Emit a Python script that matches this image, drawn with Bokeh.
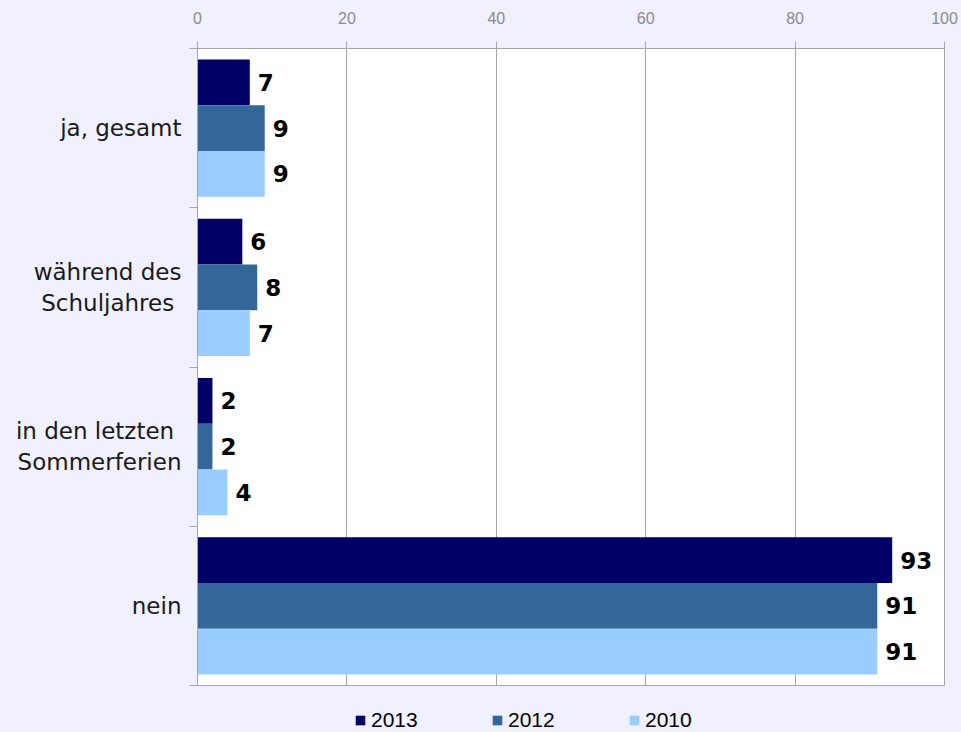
import numpy as np
from bokeh.plotting import figure
from bokeh.layouts import column
from bokeh.models import Range1d, FixedTicker, Legend, LegendItem
from bokeh.core.properties import value
from bokeh.embed import file_html
from bokeh.resources import INLINE

# ---- data ----
categories = ["ja, gesamt", "während des\nSchuljahres ", "in den letzten \nSommerferien", "nein"]
years = ["2013", "2012", "2010"]
v2013 = [7, 6, 2, 93]
v2012 = [9, 8, 2, 91]
v2010 = [9, 7, 4, 91]
x_ticks = [0, 20, 40, 60, 80, 100]

colors = ["#000066", "#336699", "#99ccff"]
BG = "#f0f0fe"
GRID = "#a6a6a6"

n = len(categories)
centers = np.arange(n) + 0.5
bar_h = 0.287
offsets = [-bar_h, 0.0, bar_h]

p = figure(width=961, height=700, output_backend="svg", toolbar_location=None,
           x_range=Range1d(0, 100), y_range=Range1d(n, 0),
           x_axis_location="above",
           min_border_left=197, min_border_right=17, min_border_top=48, min_border_bottom=15)

p.background_fill_color = "white"
p.border_fill_color = BG
p.outline_line_color = GRID

series = [v2013, v2012, v2010]
for vals, off, col in zip(series, offsets, colors):
    ys = centers + off
    p.hbar(y=ys, right=vals, left=0, height=bar_h, fill_color=col, line_color=None)
    p.text(x=vals, y=ys, text=[str(v) for v in vals], x_offset=8,
           text_baseline="middle", text_align="left",
           text_font=value("DejaVu Sans"), text_font_style="bold",
           text_font_size="23px", text_color="black")

# x axis (top)
xa = p.xaxis[0]
xa.ticker = FixedTicker(ticks=x_ticks)
xa.axis_line_color = GRID
xa.major_tick_line_color = GRID
xa.major_tick_out = 7
xa.major_tick_in = 0
xa.minor_tick_line_color = None
xa.major_label_text_font = "Liberation Sans"
xa.major_label_text_font_size = "16px"
xa.major_label_text_color = "#8c8c8c"
xa.major_label_standoff = 18

# y axis (left)
ya = p.yaxis[0]
ya.ticker = FixedTicker(ticks=list(centers), minor_ticks=list(range(n + 1)))
ya.major_label_overrides = {float(c): lab for c, lab in zip(centers, categories)}
ya.axis_line_color = GRID
ya.major_tick_out = 0
ya.major_tick_in = 0
ya.major_tick_line_color = None
ya.minor_tick_out = 8
ya.minor_tick_in = 0
ya.minor_tick_line_color = GRID
ya.major_label_text_font = "DejaVu Sans"
ya.major_label_text_font_size = "23px"
ya.major_label_text_color = "#1a1a1a"
ya.major_label_standoff = 8

p.xgrid.ticker = FixedTicker(ticks=x_ticks)
p.xgrid.grid_line_color = GRID
p.ygrid.grid_line_color = None

# legend strip below the chart
p2 = figure(width=961, height=32, output_backend="svg", toolbar_location=None,
            x_range=Range1d(0, 1), y_range=Range1d(0, 1), min_border=0)
p2.axis.visible = False
p2.grid.grid_line_color = None
p2.outline_line_color = None
p2.background_fill_color = BG
p2.border_fill_color = BG
swatches = [p2.hbar(y=[0], left=[0], right=[0], height=0, fill_color=c, line_color=None)
            for c in colors]
legend = Legend(items=[LegendItem(label=y, renderers=[r]) for y, r in zip(years, swatches)],
                orientation="horizontal", location=(157, 0),
                glyph_width=12, glyph_height=12, label_standoff=5,
                label_width=50, spacing=70, padding=0, margin=0,
                label_text_font="Liberation Sans", label_text_font_size="21px",
                label_text_color="black",
                border_line_color=None, background_fill_alpha=0)
p2.add_layout(legend, "center")

layout = column(p, p2, spacing=0)
html = file_html(layout, INLINE)
html = html.replace("</head>", "<style>body{background-color:%s;}</style></head>" % BG, 1)
open("out.html", "w").write(html)
